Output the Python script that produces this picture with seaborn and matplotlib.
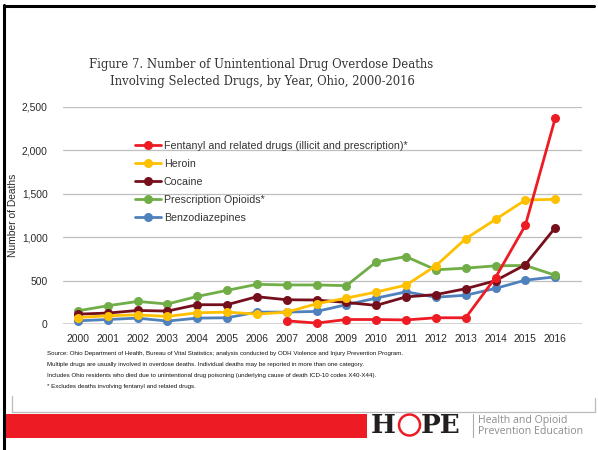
import numpy as np
import pandas as pd
import matplotlib
matplotlib.use("Agg")
import matplotlib.pyplot as plt
import seaborn as sns
from matplotlib.patches import Circle, Rectangle
from matplotlib.lines import Line2D
from matplotlib.transforms import IdentityTransform

# ---- data -------------------------------------------------------------
years = list(range(2000, 2017))
fentanyl = [np.nan] * 7 + [40, 14, 55, 55, 50, 75, 75, 537, 1136, 2365]
heroin = [78, 98, 109, 90, 132, 140, 117, 140, 236, 301, 371, 450, 672, 983, 1205, 1428, 1436]
cocaine = [117, 129, 159, 152, 225, 225, 317, 282, 279, 251, 217, 315, 341, 409, 501, 684, 1109]
rx_opioids = [155, 213, 263, 233, 320, 390, 459, 452, 452, 444, 716, 778, 626, 645, 672, 676, 564]
benzos = [40, 55, 71, 37, 71, 75, 140, 140, 148, 225, 301, 373, 311, 334, 412, 507, 545]

series_names = [
    "Fentanyl and related drugs (illicit and prescription)*",
    "Heroin",
    "Cocaine",
    "Prescription Opioids*",
    "Benzodiazepines",
]
series_values = [fentanyl, heroin, cocaine, rx_opioids, benzos]
series_colors = ["#ED1C24", "#FFC000", "#760F1C", "#70AD47", "#4F81BD"]
y_ticks = [0, 500, 1000, 1500, 2000, 2500]

df = pd.DataFrame(
    [(n, y, v) for n, vals in zip(series_names, series_values) for y, v in zip(years, vals)],
    columns=["drug", "year", "deaths"],
).dropna()

# ---- figure -----------------------------------------------------------
sns.set_theme(style="white")
plt.rcParams["font.family"] = ["Liberation Sans", "DejaVu Sans"]

W, H = 598, 450
fig = plt.figure(figsize=(W / 100, H / 100), dpi=100)
fig.patch.set_facecolor("white")

def fx(px):
    return px / W

def fy(py):
    return 1 - py / H

ax = fig.add_axes([fx(63), fy(324.3), fx(582) - fx(63), fy(106.7) - fy(324.3)])

palette = dict(zip(series_names, series_colors))
sns.lineplot(
    data=df, x="year", y="deaths", hue="drug",
    hue_order=series_names[::-1], palette=palette,
    marker="o", markersize=6.5, markeredgewidth=0,
    linewidth=2.0, ax=ax, legend=False, clip_on=False,
)

ax.set_xlim(1999.5, 2016.9)
ax.set_ylim(0, 2500)
ax.set_xticks(years)
ax.set_xticklabels([str(y) for y in years])
ax.set_yticks(y_ticks)
ax.set_yticklabels([f"{t:,}" for t in y_ticks])
ax.tick_params(axis="both", length=0, labelsize=7.4, colors="#2B2B2B")
ax.tick_params(axis="x", pad=7)
ax.tick_params(axis="y", pad=11)
ax.set_xlabel("")
ax.set_ylabel("Number of Deaths", fontsize=7.4, color="#2B2B2B")
ax.yaxis.set_label_coords((18 - 63) / (582 - 63), 0.5, transform=ax.transAxes)

for t in y_ticks[1:]:
    ax.axhline(t, color="#BFBFBF", linewidth=0.9, zorder=0)
ax.axhline(0, color="#D4D4D4", linewidth=2.2, zorder=0.5)
for s in ax.spines.values():
    s.set_visible(False)

handles = [
    Line2D([], [], color=c, marker="o", markersize=6.5, markeredgewidth=0, linewidth=2.0)
    for c in series_colors
]
fig.legend(
    handles, series_names, loc="upper left",
    bbox_to_anchor=(fx(135), fy(141)), frameon=False,
    fontsize=7.7, labelcolor="#333333", handlelength=2.4,
    handletextpad=0.3, labelspacing=0.74, borderpad=0, borderaxespad=0,
)

# ---- title -------------------------------------------------------------
fig.text(fx(261), fy(65), "Figure 7. Number of Unintentional Drug Overdose Deaths",
         ha="center", va="center", fontsize=8.4, family="DejaVu Serif", color="#333333")
fig.text(fx(262), fy(81), "Involving Selected Drugs, by Year, Ohio, 2000-2016",
         ha="center", va="center", fontsize=8.4, family="DejaVu Serif", color="#333333")

# ---- footnotes ---------------------------------------------------------
notes = [
    "Source: Ohio Department of Health, Bureau of Vital Statistics; analysis conducted by ODH Violence and Injury Prevention Program.",
    "Multiple drugs are usually involved in overdose deaths. Individual deaths may be reported in more than one category.",
    "Includes Ohio residents who died due to unintentional drug poisoning (underlying cause of death ICD-10 codes X40-X44).",
    "* Excludes deaths involving fentanyl and related drugs.",
]
for i, line in enumerate(notes):
    fig.text(fx(47), fy(353.5 + 11 * i), line, ha="left", va="center",
             fontsize=4.4, family="Liberation Sans", color="#111111")

# ---- page frame and banner ----------------------------------------------
ident = IdentityTransform()
fig.add_artist(Line2D([4, 4], [H - 5, 0], color="black", linewidth=2.2, transform=ident))
fig.add_artist(Line2D([4, 594], [H - 6, H - 6], color="black", linewidth=2.2, transform=ident))
fig.add_artist(Line2D([12, 12, 595, 595], [H - 396, H - 412, H - 412, H - 398],
                      color="#BBBBBB", linewidth=0.9, transform=ident))
fig.add_artist(Rectangle((5, H - 438), 362, 24, facecolor="#ED1C24",
                         edgecolor="none", transform=ident))

# HOPE wordmark
fig.text(fx(371), fy(425.5), "H", ha="left", va="center", fontsize=19,
         family="DejaVu Serif", weight="bold", color="#231F20")
fig.add_artist(Circle((409.5, H - 425), 10.5, facecolor="none", edgecolor="#ED1C24",
                      linewidth=1.8, transform=ident))
fig.text(fx(421), fy(425.5), "PE", ha="left", va="center", fontsize=19,
         family="DejaVu Serif", weight="bold", color="#231F20")
fig.add_artist(Line2D([473, 473], [H - 414, H - 437], color="#AAAAAA", linewidth=0.8,
                      transform=ident))
fig.text(fx(478), fy(420.5), "Health and Opioid", ha="left", va="center",
         fontsize=7.6, family="Open Sans", color="#8C8C8C")
fig.text(fx(478), fy(431.5), "Prevention Education", ha="left", va="center",
         fontsize=7.6, family="Open Sans", color="#8C8C8C")

fig.savefig("out.png", dpi=100, facecolor="white")
